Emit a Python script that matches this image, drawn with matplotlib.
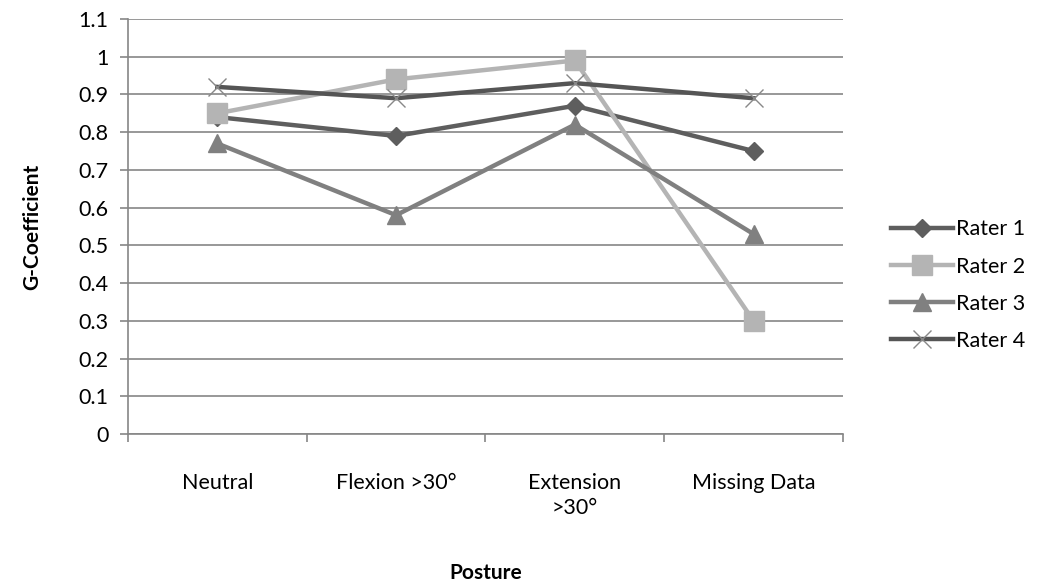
import matplotlib
matplotlib.use("Agg")
import matplotlib.pyplot as plt

plt.rcParams['font.family'] = ['Lato', 'DejaVu Sans']

postures = ['Neutral', 'Flexion >30°', 'Extension\n>30°', 'Missing Data']
rater1 = [0.84, 0.79, 0.87, 0.75]
rater2 = [0.85, 0.94, 0.99, 0.30]
rater3 = [0.77, 0.58, 0.82, 0.53]
rater4 = [0.92, 0.89, 0.93, 0.89]

fig = plt.figure(figsize=(10.55, 5.88), dpi=100)
ax = fig.add_axes([0.1213, 0.2619, 0.6777, 0.7058])

x = range(len(postures))
ax.plot(x, rater1, color='#5e5e5e', lw=3.2, marker='D', ms=9, label='Rater 1')
ax.plot(x, rater2, color='#b4b4b4', lw=3.2, marker='s', ms=14, label='Rater 2')
ax.plot(x, rater3, color='#808080', lw=3.2, marker='^', ms=13, label='Rater 3')
ax.plot(x, rater4, color='#555555', lw=3.2, marker='x', ms=13, mew=1.0,
        mec='#888888', label='Rater 4')

ax.set_xlim(-0.5, 3.5)
ax.set_ylim(0, 1.1)
ax.set_yticks([i / 10 for i in range(12)])
ax.set_yticklabels(['0', '0.1', '0.2', '0.3', '0.4', '0.5', '0.6', '0.7',
                    '0.8', '0.9', '1', '1.1'])
ax.set_xticks(list(x))
ax.set_xticklabels(postures, linespacing=1.35)
ax.set_xticks([-0.5, 0.5, 1.5, 2.5, 3.5], minor=True)
ax.tick_params(axis='x', which='major', length=0, pad=28, labelsize=15.5)
ax.tick_params(axis='x', which='minor', length=6, color='#868686', width=1.2)
ax.tick_params(axis='y', length=6, color='#868686', width=1.2, labelsize=15.5, pad=8)

ax.grid(axis='y', color='#868686', lw=1.2)
ax.set_axisbelow(True)
for s in ['top', 'right']:
    ax.spines[s].set_visible(False)
ax.spines['left'].set_color('#868686')
ax.spines['bottom'].set_color('#868686')
ax.spines['left'].set_linewidth(1.2)
ax.spines['bottom'].set_linewidth(1.2)

ax.set_ylabel('G-Coefficient', fontsize=15, fontweight='bold', labelpad=26)
ax.set_xlabel('Posture', fontsize=15, fontweight='bold', labelpad=32)

fig.legend(loc='center left', bbox_to_anchor=(0.826, 0.515), frameon=False,
           fontsize=15.5, handlelength=2.9, handletextpad=0.15, labelspacing=0.8)

fig.savefig('out.png', dpi=100)
